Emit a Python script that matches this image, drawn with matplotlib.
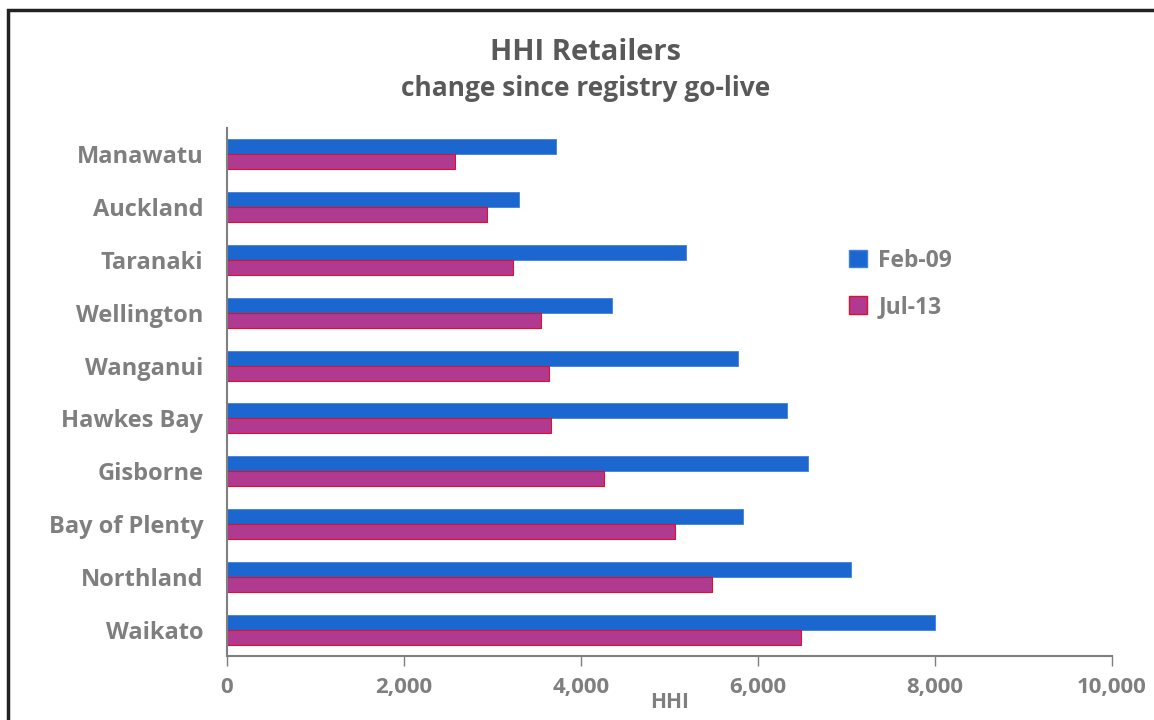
import numpy as np
import matplotlib.pyplot as plt
from matplotlib.patches import Rectangle, Patch

plt.rcParams['font.family'] = ['Open Sans', 'DejaVu Sans']
plt.rcParams['font.weight'] = 'bold'

# regions, bottom to top
regions = ["Waikato", "Northland", "Bay of Plenty", "Gisborne", "Hawkes Bay",
           "Wanganui", "Wellington", "Taranaki", "Auckland", "Manawatu"]
feb09 = [8000, 7050, 5830, 6560, 6330, 5770, 4350, 5190, 3300, 3720]
jul13 = [6490, 5480, 5060, 4260, 3660, 3640, 3550, 3230, 2940, 2580]

grey = "#7f7f7f"
blue = "#1b67cf"
purple = "#b03a8f"

fig = plt.figure(figsize=(11.54, 7.2), dpi=100)
ax = fig.add_axes([227 / 1154, 1 - 656 / 720, (1112 - 227) / 1154, (656 - 128) / 720])

y = np.arange(len(regions))
h = 0.285
ax.barh(y + h / 2, feb09, height=h, color=blue, edgecolor="#3f80dd", linewidth=0.6, label="Feb-09")
ax.barh(y - h / 2, jul13, height=h, color=purple, edgecolor="#e0102a", linewidth=0.8, label="Jul-13")

ax.set_xlim(0, 10000)
ax.set_ylim(-0.5, len(regions) - 0.5)
ax.set_yticks(y)
ax.set_yticklabels(regions, fontsize=17, color=grey, fontweight="bold")
ax.tick_params(axis="y", length=0, pad=17)
ax.set_xticks(np.arange(0, 10001, 2000))
ax.set_xticklabels([f"{v:,}" for v in range(0, 10001, 2000)], fontsize=16, color=grey, fontweight="bold")
ax.tick_params(axis="x", length=7, width=1, color=grey, pad=8)
ax.set_xlabel("HHI", fontsize=15, color=grey, fontweight="bold", labelpad=-4)

for s in ["top", "right"]:
    ax.spines[s].set_visible(False)
for s in ["left", "bottom"]:
    ax.spines[s].set_color(grey)
    ax.spines[s].set_linewidth(1.5)

fig.text(586 / 1154, 1 - 52 / 720, "HHI Retailers", ha="center", va="center",
         fontsize=21, color="#595959", fontweight="bold")
fig.text(586 / 1154, 1 - 88 / 720, "change since registry go-live", ha="center", va="center",
         fontsize=19, color="#595959", fontweight="bold")

handles = [Patch(facecolor=blue, edgecolor="#3f80dd", label="Feb-09"),
           Patch(facecolor=purple, edgecolor="#e0102a", label="Jul-13")]
leg = fig.legend(handles=handles, loc="upper left", bbox_to_anchor=(828 / 1154, 1 - 228 / 720),
                 frameon=False, fontsize=16.5, handlelength=0.8, handleheight=0.8,
                 labelspacing=0.98, handletextpad=0.5)
for t in leg.get_texts():
    t.set_color(grey)
    t.set_fontweight("bold")

# outer frame
fig.patches.append(Rectangle((8 / 1154, -0.1), 1.2, 1 - 10 / 720 + 0.1, transform=fig.transFigure,
                             fill=False, edgecolor="#222222", linewidth=2.5))

fig.savefig("out.png", dpi=100)
